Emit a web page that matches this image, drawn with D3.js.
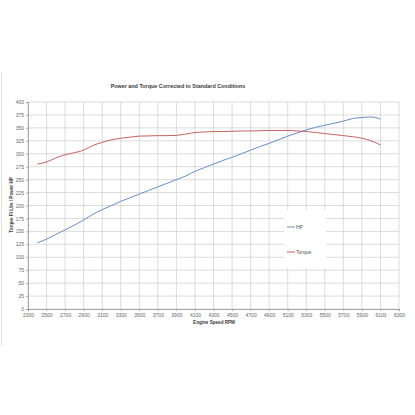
<!DOCTYPE html>
<html>
<head>
<meta charset="utf-8">
<script src="https://cdn.jsdelivr.net/npm/d3@7"></script>
<style>
  body { margin: 0; background: #fff; }
  svg { display: block; font-family: "Liberation Sans", Arial, sans-serif; }
  .tick text { font-size: 5px; fill: #666; }
</style>
</head>
<body>
<div id="chart"></div>
<script>
var w = 415,
    h = 415;

// engine speed, every 100 rpm
var rpm = [2400, 2500, 2600, 2700, 2800, 2900, 3000, 3100, 3200, 3300,
           3400, 3500, 3600, 3700, 3800, 3900, 4000, 4100, 4200, 4300,
           4400, 4500, 4600, 4700, 4800, 4900, 5000, 5100, 5200, 5300,
           5400, 5500, 5600, 5700, 5800, 5900, 6000, 6100];

var hp = [128, 135, 144, 153, 162, 172, 183, 192, 200, 208,
          215, 222, 229, 236, 243, 250, 257, 266, 273, 280,
          287, 293, 300, 307, 314, 320, 327, 334, 340, 346,
          351, 355, 359, 363, 368, 370, 371, 367];

var torque = [280, 284, 292, 298, 302, 307, 316, 322, 327, 330,
              332, 334, 334.5, 335, 335, 335.5, 338, 341, 342, 343,
              343, 343.5, 344, 344, 344.5, 345, 345, 345, 344, 343,
              341, 339, 337, 335, 333, 330, 325, 317];

var xTicks = d3.range(2300, 6301, 200),
    yTicks = d3.range(0, 401, 25);

var series = [
  {name: "HP", values: hp, color: "#5283c0"},
  {name: "Torque", values: torque, color: "#c0504d"}
];

var x = d3.scaleLinear().domain([2300, 6300]).range([28, 399]),
    y = d3.scaleLinear().domain([0, 400]).range([309, 102]);

var svg = d3.select("#chart").append("svg")
    .attr("width", w)
    .attr("height", h);

// faint chart-area edge
svg.append("line")
    .attr("x1", 1.5).attr("x2", 1.5)
    .attr("y1", 72).attr("y2", 346)
    .attr("stroke", "#e4e4e4");

// grid
svg.append("g").selectAll("line")
    .data(yTicks)
  .enter().append("line")
    .attr("x1", x.range()[0]).attr("x2", x.range()[1])
    .attr("y1", function(d) { return y(d); })
    .attr("y2", function(d) { return y(d); })
    .attr("stroke", "#c4c4c4")
    .attr("stroke-width", 0.6);

svg.append("g").selectAll("line")
    .data(xTicks)
  .enter().append("line")
    .attr("x1", function(d) { return x(d); })
    .attr("x2", function(d) { return x(d); })
    .attr("y1", y.range()[0]).attr("y2", y.range()[1])
    .attr("stroke", "#c4c4c4")
    .attr("stroke-width", 0.6);

// axes
var xAxis = svg.append("g")
    .attr("transform", "translate(0," + y(0) + ")")
    .call(d3.axisBottom(x).tickValues(xTicks).tickFormat(d3.format("d")).tickSize(2).tickPadding(2));
var yAxis = svg.append("g")
    .attr("transform", "translate(" + x(2300) + ",0)")
    .call(d3.axisLeft(y).tickValues(yTicks).tickFormat(d3.format("d")).tickSize(2).tickPadding(2));
[xAxis, yAxis].forEach(function(a) {
  a.select(".domain").attr("stroke", "#8a8a8a").attr("stroke-width", 0.7);
  a.selectAll(".tick line").attr("stroke", "#8a8a8a").attr("stroke-width", 0.6);
  a.attr("font-size", null).attr("font-family", null);
});

// lines
var line = d3.line()
    .x(function(d, i) { return x(rpm[i]); })
    .y(function(d) { return y(d); })
    .curve(d3.curveMonotoneX);

svg.append("g").selectAll("path")
    .data(series)
  .enter().append("path")
    .attr("d", function(d) { return line(d.values); })
    .attr("fill", "none")
    .attr("stroke", function(d) { return d.color; })
    .attr("stroke-width", 0.9);

// legend
var legend = svg.append("g").attr("transform", "translate(284,210)");
legend.append("rect")
    .attr("width", 42).attr("height", 58)
    .attr("fill", "#fff");
var item = legend.selectAll(".item")
    .data(series)
  .enter().append("g")
    .attr("class", "item")
    .attr("transform", function(d, i) { return "translate(3," + (17 + i * 25) + ")"; });
item.append("line")
    .attr("x1", 0).attr("x2", 8)
    .attr("stroke", function(d) { return d.color; })
    .attr("stroke-width", 0.9);
item.append("text")
    .attr("x", 9)
    .attr("dy", "0.35em")
    .attr("font-size", 5)
    .attr("fill", "#555")
    .text(function(d) { return d.name; });

// titles
svg.append("text")
    .attr("x", 178).attr("y", 88)
    .attr("text-anchor", "middle")
    .attr("font-size", 5.4)
    .attr("font-weight", "bold")
    .attr("fill", "#3a3a3a")
    .text("Power and Torque Corrected to Standard Conditions");

svg.append("text")
    .attr("x", 214).attr("y", 324)
    .attr("text-anchor", "middle")
    .attr("font-size", 4.6)
    .attr("font-weight", "bold")
    .attr("fill", "#3a3a3a")
    .text("Engine Speed RPM");

svg.append("text")
    .attr("transform", "translate(13,205) rotate(-90)")
    .attr("text-anchor", "middle")
    .attr("font-size", 4.6)
    .attr("font-weight", "bold")
    .attr("fill", "#3a3a3a")
    .text("Torque Ft Lbs / Power HP");
</script>
</body>
</html>
